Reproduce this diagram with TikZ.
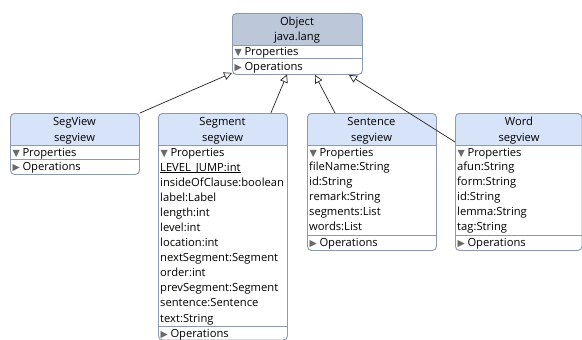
\documentclass[tikz,border=0pt]{standalone}
\usepackage{fontspec}
\setmainfont{Open Sans}
\newfontfamily\symfont{DejaVu Sans}
\usetikzlibrary{arrows.meta,calc}
\definecolor{bordercol}{HTML}{8C99B0}
\definecolor{objhead}{HTML}{BCC7DA}
\definecolor{clshead}{HTML}{D7E3F9}
\definecolor{tricol}{HTML}{6A6A6A}
\tikzset{
  classbox/.style={draw=bordercol, line width=0.9pt, rounded corners=4pt, inner sep=0pt, anchor=north west},
  sepline/.style={draw=bordercol, line width=0.8pt},
  title/.style={font=\fontsize{11.2}{12}\selectfont, inner sep=0pt, anchor=base, yshift=-4pt},
  rowtxt/.style={font=\fontsize{11.2}{12}\selectfont, inner sep=0pt, anchor=base west, yshift=-4pt},
  inherit/.style={draw=black!85, line width=0.7pt, -{Triangle[open, length=8pt, width=8pt, fill=white]}},
}
\newcommand\downtri{{\symfont\fontsize{9.5}{10}\selectfont\textcolor{tricol}{▼}}\hspace{2.5pt}}
\newcommand\righttri{{\symfont\fontsize{9.5}{10}\selectfont\textcolor{tricol}{▶}}\hspace{2.5pt}}
% #1 name, #2 x, #3 y, #4 w, #5 h, #6 header colour
\newcommand\classshape[6]{%
  \fill[#6] (#2,#3+32) [rounded corners=4pt] -- (#2,#3) -- (#2+#4,#3) [sharp corners] -- (#2+#4,#3+32) -- cycle;
  \node[classbox, minimum width=#4pt, minimum height=#5pt] (#1) at (#2,#3) {};
  \draw[sepline] (#2,#3+32) -- (#2+#4,#3+32);
}
\begin{document}
\begin{tikzpicture}[x=1pt,y=-1pt]
\useasboundingbox (0,0) rectangle (582,340);
\fill[white] (0,0) rectangle (582,340);

% ---------- Object ----------
\classshape{object}{232}{13}{130}{61}{objhead}
\node[title] (objt1) at (297,21) {Object};
\node[title] (objt2) at (297,37) {java.lang};
\draw[sepline] (232,58) -- (362,58);
\node[rowtxt] (objp) at (234.5,51.5) {\downtri Properties};
\node[rowtxt] (objo) at (234.5,66.5) {\righttri Operations};

% ---------- SegView ----------
\classshape{segviewc}{10}{113}{129}{61}{clshead}
\node[title] (svt1) at (74.5,121) {SegView};
\node[title] (svt2) at (74.5,137) {segview};
\draw[sepline] (10,159) -- (139,159);
\node[rowtxt] (svp) at (12.5,152) {\downtri Properties};
\node[rowtxt] (svo) at (12.5,166.5) {\righttri Operations};

% ---------- Segment ----------
\classshape{segment}{158}{113}{129}{226.5}{clshead}
\node[title] (sgt1) at (222.5,121) {Segment};
\node[title] (sgt2) at (222.5,137) {segview};
\node[rowtxt] (sgp) at (160.5,152) {\downtri Properties};
\node[rowtxt] (sga1) at (160,167) {LEVEL\_JUMP:int};
\draw[black, line width=0.6pt] ($(sga1.base west)+(0,1.6)$) -- ($(sga1.base east)+(0,1.6)$);
\node[rowtxt] (sga2) at (160,182.1) {insideOfClause:boolean};
\node[rowtxt] (sga3) at (160,197.2) {label:Label};
\node[rowtxt] (sga4) at (160,212.3) {length:int};
\node[rowtxt] (sga5) at (160,227.4) {level:int};
\node[rowtxt] (sga6) at (160,242.5) {location:int};
\node[rowtxt] (sga7) at (160,257.6) {nextSegment:Segment};
\node[rowtxt] (sga8) at (160,272.7) {order:int};
\node[rowtxt] (sga9) at (160,287.8) {prevSegment:Segment};
\node[rowtxt] (sga10) at (160,302.9) {sentence:Sentence};
\node[rowtxt] (sga11) at (160,318) {text:String};
\draw[sepline] (158,326.5) -- (287,326.5);
\node[rowtxt] (sgo) at (160.5,333) {\righttri Operations};

% ---------- Sentence ----------
\classshape{sentence}{307}{113}{129}{137}{clshead}
\node[title] (stt1) at (371.5,121) {Sentence};
\node[title] (stt2) at (371.5,137) {segview};
\node[rowtxt] (stp) at (309.5,152) {\downtri Properties};
\node[rowtxt] (sta1) at (309,166.5) {fileName:String};
\node[rowtxt] (sta2) at (309,181.6) {id:String};
\node[rowtxt] (sta3) at (309,196.7) {remark:String};
\node[rowtxt] (sta4) at (309,211.8) {segments:List};
\node[rowtxt] (sta5) at (309,226.9) {words:List};
\draw[sepline] (307,235) -- (436,235);
\node[rowtxt] (sto) at (309.5,242.5) {\righttri Operations};

% ---------- Word ----------
\classshape{word}{455}{113}{126.5}{137}{clshead}
\node[title] (wdt1) at (519,121) {Word};
\node[title] (wdt2) at (519,137) {segview};
\node[rowtxt] (wdp) at (457.5,152) {\downtri Properties};
\node[rowtxt] (wda1) at (457,166.5) {afun:String};
\node[rowtxt] (wda2) at (457,181.6) {form:String};
\node[rowtxt] (wda3) at (457,196.7) {id:String};
\node[rowtxt] (wda4) at (457,211.8) {lemma:String};
\node[rowtxt] (wda5) at (457,226.9) {tag:String};
\draw[sepline] (455,235) -- (581.5,235);
\node[rowtxt] (wdo) at (457.5,242.5) {\righttri Operations};

% ---------- generalisations ----------
\draw[inherit] (segviewc.north east) -- ($(object.south west)+(0,-2)$);
\draw[inherit] ($(segment.north east)+(-17,0)$) -- ($(object.south west)+(55,-0.5)$);
\draw[inherit] ($(sentence.north west)+(28,0)$) -- ($(object.south west)+(83,0)$);
\draw[inherit] ($(word.north west)+(0,29)$) -- ($(object.south east)+(-14,0)$);
\end{tikzpicture}
\end{document}
